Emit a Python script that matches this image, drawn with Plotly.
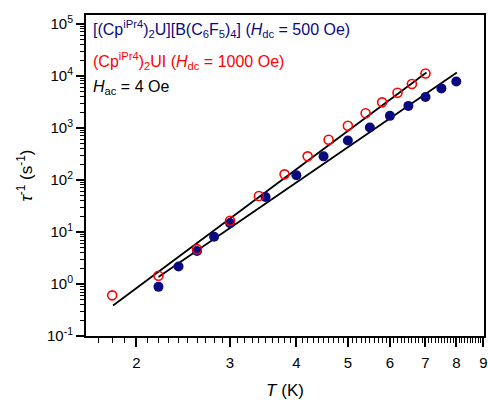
import numpy as np
import plotly.graph_objects as go

# ---- data ----
T_blue = [2.2, 2.4, 2.6, 2.8, 3.0, 3.5, 4.0, 4.5, 5.0, 5.5, 6.0, 6.5, 7.0, 7.5, 8.0]
rate_blue = [0.88, 2.17, 4.3, 8.1, 14.8, 47, 123, 284, 574, 1018, 1703, 2646, 3935, 5742, 7816]

T_red = [1.8, 2.2, 2.6, 3.0, 3.4, 3.8, 4.2, 4.6, 5.0, 5.4, 5.8, 6.2, 6.6, 7.0]
rate_red = [0.605, 1.44, 4.67, 16.4, 49, 128, 284, 592, 1097, 1910, 3100, 4750, 6970, 11120]

fit_red_T = [1.807, 7.03]
fit_red_rate = [0.385, 11620]
fit_blue_T = [2.2, 8.02]
fit_blue_rate = [1.36, 11620]

x_ticks = [2, 3, 4, 5, 6, 7, 8, 9]
x_ticktext = ["2", "3", "4", "5", "6", "7", "8", "9"]
y_exps = [-1, 0, 1, 2, 3, 4, 5]

navy = "#0A0A80"
red = "#FF0000"
font = "Arial, Liberation Sans, sans-serif"

fig = go.Figure()
fig.add_trace(go.Scatter(x=fit_red_T, y=fit_red_rate, mode="lines",
                         line=dict(color="black", width=1.8), showlegend=False))
fig.add_trace(go.Scatter(x=fit_blue_T, y=fit_blue_rate, mode="lines",
                         line=dict(color="black", width=1.8), showlegend=False))
fig.add_trace(go.Scatter(x=T_blue, y=rate_blue, mode="markers",
                         marker=dict(color=navy, size=10, symbol="circle", line=dict(width=0)),
                         showlegend=False))
fig.add_trace(go.Scatter(x=T_red, y=rate_red, mode="markers",
                         marker=dict(color=red, size=9, symbol="circle-open", line=dict(width=1.6)),
                         showlegend=False))

x_minor = [round(v, 1) for v in np.arange(1.7, 9.0, 0.1) if abs(v - round(v)) > 1e-6]
y_minor = [m * 10.0 ** e for e in range(-1, 5) for m in range(2, 10)]

fig.update_xaxes(type="log", range=[np.log10(1.607), np.log10(9.0) + 0.001], automargin=False,
                 tickvals=x_ticks, ticktext=x_ticktext,
                 ticks="outside", ticklen=9, tickwidth=1.5, tickcolor="black",
                 ticklabelstandoff=3,
                 minor=dict(tickvals=x_minor, ticks="outside", ticklen=5, tickwidth=1.2, tickcolor="black"),
                 showline=True, linewidth=2, linecolor="black", mirror=True,
                 showgrid=False, zeroline=False,
                 tickfont=dict(family=font, size=15, color="black"),
                 title=dict(text="<i>T</i> (K)", font=dict(family=font, size=17, color="black"), standoff=14))
fig.update_yaxes(type="log", range=[-1, 5.17], automargin=False,
                 tickvals=[10.0 ** e for e in y_exps],
                 ticktext=["10<sup>%d</sup>" % e for e in y_exps],
                 ticks="outside", ticklen=8, tickwidth=1.5, tickcolor="black",
                 minor=dict(tickvals=y_minor, ticks="outside", ticklen=4, tickwidth=1.2, tickcolor="black"),
                 showline=True, linewidth=2, linecolor="black", mirror=True,
                 showgrid=False, zeroline=False,
                 tickfont=dict(family=font, size=15, color="black"),
                 title=dict(text="<i>τ</i><sup>-1</sup> (s<sup>-1</sup>)",
                            font=dict(family=font, size=17, color="black"), standoff=10))

ann = [
    ("[(Cp<sup>iPr4</sup>)<sub>2</sub>U][B(C<sub>6</sub>F<sub>5</sub>)<sub>4</sub>] (<i>H</i><sub>dc</sub> = 500 Oe)", navy, 0.955),
    ("(Cp<sup>iPr4</sup>)<sub>2</sub>UI (<i>H</i><sub>dc</sub> = 1000 Oe)", red, 0.858),
    ("<i>H</i><sub>ac</sub> = 4 Oe", "black", 0.775),
]
for text, col, yy in ann:
    fig.add_annotation(x=0.012, y=yy, xref="paper", yref="paper", xanchor="left", yanchor="middle",
                       text=text, showarrow=False, font=dict(family=font, size=16, color=col))

fig.update_layout(width=488, height=400, margin=dict(l=86, r=4, t=15, b=64),
                  plot_bgcolor="white", paper_bgcolor="white", showlegend=False)

fig.write_html("out.html", config={"displayModeBar": False},
               post_script="document.body.style.margin='0';document.body.style.overflow='hidden';")
